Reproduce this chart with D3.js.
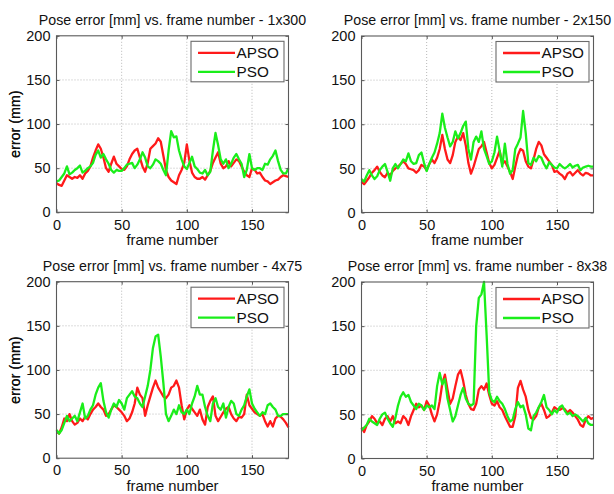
<!DOCTYPE html>
<html>
<head>
<meta charset="utf-8">
<script src="https://cdn.jsdelivr.net/npm/d3@7"></script>
<style>
  body { margin: 0; background: #fff; }
  svg { display: block; }
  text { font-family: "Liberation Sans", Arial, Helvetica, sans-serif; fill: #111; }
</style>
</head>
<body>
<svg id="chart" width="614" height="494"></svg>
<script>
// Frame indices shared by every run (sampled every second frame)
const frames = d3.range(0, 179, 2);

const seriesNames = ["APSO", "PSO"];
const titles = [
  "Pose error [mm] vs. frame number - 1x300",
  "Pose error [mm] vs. frame number - 2x150",
  "Pose error [mm] vs. frame number - 4x75",
  "Pose error [mm] vs. frame number - 8x38"
];
const xTicks = [0, 50, 100, 150];
const yTicks = [0, 50, 100, 150, 200];

// Pose error (mm) per frame, one array per configuration
const apso1x300 = [33,31,30,36,42,40,38,40,39,42, 38,44,47,52,62,70,77,72,62,50, 46,55,63,55,52,49,48,52,60,66,
                   70,72,62,52,46,56,72,75,78,84, 80,64,48,40,36,34,32,42,48,56, 77,58,45,40,38,38,40,37,42,47,
                   56,62,68,55,50,52,58,52,56,60, 58,52,46,42,40,50,48,44,45,40, 36,35,32,34,36,37,40,42,41,40];
const pso1x300  = [35,36,40,44,52,43,45,48,50,53, 45,47,50,52,56,65,70,62,66,60, 55,48,45,48,47,47,50,54,55,56,
                   50,54,60,68,62,52,50,54,60,58, 55,48,42,70,92,85,86,70,60,52, 49,56,63,52,49,45,44,48,42,46,
                   70,90,76,60,55,60,50,55,62,66, 60,55,40,48,66,50,48,50,50,48, 55,54,60,64,70,58,48,44,44,50];

const apso2x150 = [35,32,36,40,45,48,52,46,42,40, 45,42,47,50,52,55,58,55,50,49, 48,45,48,54,52,48,55,60,56,62,
                   72,88,72,60,56,65,80,86,82,90, 76,56,44,52,62,72,75,80,68,56, 50,54,62,70,55,58,52,46,38,52,
                   65,72,70,58,52,50,60,72,80,76, 66,62,58,54,46,47,44,42,38,44, 46,42,45,48,44,42,45,44,42,42];
const pso2x150  = [38,35,42,48,42,38,41,48,52,55, 46,36,50,55,50,55,60,58,67,58, 55,56,65,68,56,47,55,62,68,78,
                   90,112,96,85,75,80,92,84,90,98, 103,72,60,80,86,80,92,72,64,55, 58,68,86,70,52,78,55,44,48,72,
                   78,85,115,90,56,54,62,58,64,62, 55,50,57,54,51,50,55,52,50,52, 55,51,53,54,48,51,52,53,52,52];

const apso4x75  = [30,28,35,45,42,50,42,38,40,45, 42,47,44,50,55,58,62,58,55,48, 50,55,60,58,55,52,48,42,45,52,
                   62,80,72,68,48,60,70,80,88,80, 75,70,68,72,80,82,88,80,60,44, 55,60,56,52,48,55,44,38,58,65,
                   70,48,42,47,52,56,58,50,45,42, 47,46,50,72,60,56,52,50,48,50, 42,36,42,36,45,48,47,44,40,35];
const pso4x75   = [32,28,32,40,48,42,45,48,42,52, 62,45,48,55,60,72,80,85,65,52, 46,55,62,58,66,62,55,68,72,76,
                   70,68,62,58,70,82,100,125,138,140, 115,85,50,42,48,55,50,60,52,50, 55,50,62,70,82,72,72,58,48,42,
                   62,68,58,55,62,46,58,65,62,50, 48,55,60,70,78,62,56,52,48,52, 50,60,62,58,55,48,48,50,50,50];

const apso8x38  = [35,30,38,42,48,45,40,42,38,45, 48,42,48,40,42,40,48,45,38,48, 55,62,58,60,55,65,60,50,42,50,
                   65,85,95,78,62,68,82,95,100,88, 72,62,56,55,62,78,82,78,85,72, 62,60,65,58,55,48,42,36,36,48,
                   80,88,78,70,55,46,44,48,58,62, 55,46,48,52,58,56,55,57,56,52, 55,52,48,44,38,36,44,48,45,46];
const pso8x38   = [32,35,38,45,42,40,38,45,50,52, 45,40,36,46,60,70,75,70,72,64, 60,56,62,60,55,60,58,60,56,82,
                   97,84,90,68,55,42,48,60,72,80, 68,62,60,62,150,182,186,200,140,75, 66,64,70,65,62,56,48,42,44,56,
                   64,58,60,50,34,32,48,52,58,64, 72,58,55,50,55,52,58,60,54,50, 52,48,50,48,45,42,46,40,38,38];

const runs = [
  [apso1x300, pso1x300],
  [apso2x150, pso2x150],
  [apso4x75,  pso4x75],
  [apso8x38,  pso8x38]
];

// Layout of the 2x2 grid of axes
const colors = ["#ff1a1a", "#1aee1a"];
const axW = 232, axH = 176.5;
const origins = [[56.5, 35.8], [361.5, 36], [56.5, 281.7], [361.5, 282]];

const svg = d3.select("#chart");

runs.forEach((pair, i) => {
  const [ox, oy] = origins[i];
  const g = svg.append("g").attr("transform", `translate(${ox},${oy})`);
  const x = d3.scaleLinear().domain([0, 178]).range([0, axW]);
  const y = d3.scaleLinear().domain([0, 200]).range([axH, 0]);

  // dotted grid
  g.append("g").selectAll("line").data(xTicks.filter(t => t > 0)).join("line")
    .attr("x1", d => x(d)).attr("x2", d => x(d)).attr("y1", 0).attr("y2", axH)
    .attr("stroke", "#b8b8b8").attr("stroke-width", 1).attr("stroke-dasharray", "1,2");
  g.append("g").selectAll("line").data(yTicks.filter(t => t > 0 && t < 200)).join("line")
    .attr("x1", 0).attr("x2", axW).attr("y1", d => y(d)).attr("y2", d => y(d))
    .attr("stroke", "#b8b8b8").attr("stroke-width", 1).attr("stroke-dasharray", "1,2");

  // data lines
  const line = d3.line().x((d, k) => x(frames[k])).y(d => y(d));
  pair.forEach((vals, s) => {
    g.append("path").datum(vals)
      .attr("fill", "none").attr("stroke", colors[s])
      .attr("stroke-width", 2.3).attr("stroke-linejoin", "round")
      .attr("d", line);
  });

  // axes: inward ticks on all sides, labels on left and bottom
  const ax = g.append("g").attr("transform", `translate(0,${axH})`)
    .call(d3.axisBottom(x).tickValues(xTicks).tickSize(-3).tickPadding(7).tickSizeOuter(0));
  const ay = g.append("g")
    .call(d3.axisLeft(y).tickValues(yTicks).tickSize(-3).tickPadding(6).tickSizeOuter(0));
  g.append("g").call(d3.axisTop(x).tickValues(xTicks).tickSize(-3).tickFormat("").tickSizeOuter(0));
  g.append("g").attr("transform", `translate(${axW},0)`)
    .call(d3.axisRight(y).tickValues(yTicks).tickSize(-3).tickFormat("").tickSizeOuter(0));
  g.selectAll(".domain").remove();
  g.selectAll(".tick line").attr("stroke", "#555");
  [ax, ay].forEach(a => a.selectAll("text")
    .attr("font-size", 14.5).attr("fill", "#111")
    .style("font-family", '"Liberation Sans", Arial, sans-serif'));

  // axes box
  g.append("rect").attr("x", 0).attr("y", 0).attr("width", axW).attr("height", axH)
    .attr("fill", "none").attr("stroke", "#5a5a5a").attr("stroke-width", 1.1);

  // title and axis labels
  g.append("text").attr("x", axW / 2).attr("y", -11).attr("text-anchor", "middle")
    .attr("font-size", 14.2).text(titles[i]);
  g.append("text").attr("x", axW / 2).attr("y", axH + 32.5).attr("text-anchor", "middle")
    .attr("font-size", 14.8).text("frame number");
  g.append("text").attr("transform", `translate(${20 - ox},${axH / 2}) rotate(-90)`)
    .attr("text-anchor", "middle").attr("font-size", 14.3).text("error (mm)");

  // legend
  const lg = g.append("g").attr("transform", `translate(${axW - 97.5},${5.5})`);
  lg.append("rect").attr("width", 93).attr("height", 40.5)
    .attr("fill", "#fff").attr("stroke", "#6a6a6a").attr("stroke-width", 1.1);
  seriesNames.forEach((name, s) => {
    const ly = 11.5 + s * 19;
    lg.append("line").attr("x1", 7).attr("x2", 44).attr("y1", ly).attr("y2", ly)
      .attr("stroke", colors[s]).attr("stroke-width", 2.3);
    lg.append("text").attr("x", 45.5).attr("y", ly + 5.3).attr("font-size", 15.3).text(name);
  });
});
</script>
</body>
</html>
